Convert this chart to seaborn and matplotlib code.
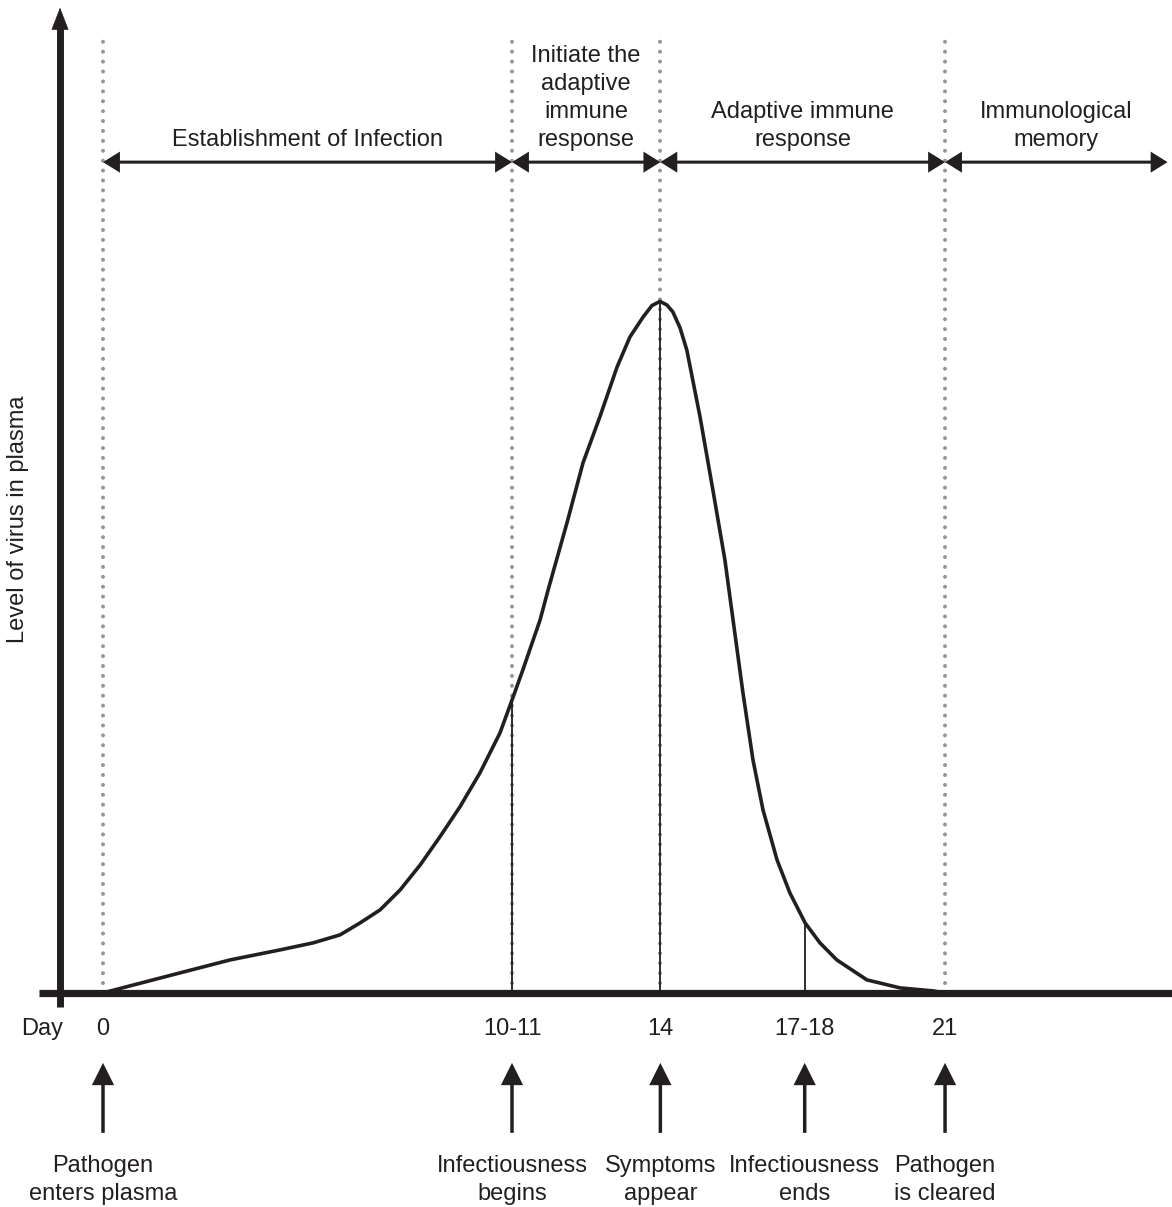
import matplotlib

matplotlib.use("Agg")
import matplotlib.pyplot as plt
import pandas as pd
import seaborn as sns

# virus level curve (day, relative level with peak = 100)
curve_day = [0.0, 1.92, 3.17, 4.41, 5.24, 5.91, 6.41, 6.91, 7.41, 7.91, 8.40, 8.90,
             9.40, 9.90, 10.22, 10.47, 10.90, 11.10, 11.57, 11.97, 12.39, 12.82,
             13.14, 13.47, 13.69, 13.89, 14.06, 14.21, 14.39, 14.56, 14.89, 15.21,
             15.51, 15.96, 16.21, 16.46, 16.81, 17.13, 17.51, 17.88, 18.30, 19.05,
             19.88, 20.70, 21.0]
curve_level = [0.0, 2.89, 4.76, 6.20, 7.22, 8.37, 10.10, 11.98, 14.86, 18.47, 22.51, 26.84,
               31.75, 37.52, 42.57, 46.61, 53.82, 58.15, 67.82, 76.48, 83.12, 90.33,
               94.66, 97.55, 99.2, 99.8, 99.3, 98.3, 96.0, 92.78, 83.12, 72.58,
               62.48, 43.29, 33.62, 26.41, 19.19, 14.43, 10.10, 7.22, 4.76, 1.88,
               0.72, 0.29, 0.0]

# events along the time axis
event_day = [0.0, 10.2, 13.9, 17.5, 21.0]
event_tick = ["0", "10-11", "14", "17-18", "21"]
event_label = ["Pathogen\nenters plasma", "Infectiousness\nbegins", "Symptoms\nappear",
               "Infectiousness\nends", "Pathogen\nis cleared"]

# thin drop lines from curve to baseline
drop_day = [10.2, 13.9, 17.5]
drop_level = [42.6, 99.7, 10.1]

# phase boundaries (dotted) and phase names
phase_bounds = [0.0, 10.2, 13.9, 21.0, 26.55]
dotted_day = [0.0, 10.2, 13.9, 21.0]
phase_label = ["Establishment of Infection", "Initiate the\nadaptive\nimmune\nresponse",
               "Adaptive immune\nresponse", "Immunological\nmemory"]

INK = "#231f20"
GREY = "#969696"

sns.set_theme(style="white")
plt.rcParams["font.family"] = ["Liberation Sans", "DejaVu Sans"]

fig = plt.figure(figsize=(11.72, 12.07), dpi=100)
ax = fig.add_axes([0, 0, 1, 1])
ax.set_xlim(-2.569, 26.66)
ax.set_ylim(-30.9, 143.3)
ax.axis("off")

df = pd.DataFrame({"day": curve_day, "level": curve_level})

# dotted phase separators
for d in dotted_day:
    ax.plot([d, d], [0, 138.2], color=GREY, lw=2.9, ls=(0, (0.01, 2.45)),
            dash_capstyle="round", zorder=1)

# thin drop lines
for d, lv in zip(drop_day, drop_level):
    ax.plot([d, d], [0, lv], color=INK, lw=1.3, zorder=2)

sns.lineplot(data=df, x="day", y="level", ax=ax, color=INK, lw=2.6,
             sort=False, estimator=None, zorder=3)
ax.lines[-1].set_solid_joinstyle("round")

# axes drawn as thick lines
ax.plot([-1.596, 26.7], [0, 0], color=INK, lw=5.2, solid_capstyle="butt", zorder=4)
ax.plot([-1.072, -1.072], [-2.0, 139.5], color=INK, lw=5.0, solid_capstyle="butt", zorder=4)
ax.annotate("", xy=(-1.072, 142.2), xytext=(-1.072, 138.0),
            arrowprops=dict(arrowstyle="-|>,head_length=15,head_width=5.8",
                            mutation_scale=1, lw=0.5, color=INK, joinstyle="miter",
                            shrinkA=0, shrinkB=0), zorder=4)

# phase double arrows and names
for i, name in enumerate(phase_label):
    a, b = phase_bounds[i], phase_bounds[i + 1]
    ax.annotate("", xy=(b, 119.9), xytext=(a, 119.9),
                arrowprops=dict(arrowstyle="<|-|>,head_length=0.45,head_width=0.28",
                                mutation_scale=20, lw=2.2, color=INK, joinstyle="miter",
                                capstyle="butt", shrinkA=0, shrinkB=0))
    ax.text((a + b) / 2, 122.2, name, ha="center", va="baseline",
            fontsize=17, color=INK, linespacing=1.36)

# day labels, arrows and event names
ax.text(-1.52, -6.06, "Day", ha="center", va="baseline", fontsize=17, color=INK)
for d, t, lab in zip(event_day, event_tick, event_label):
    ax.text(d, -6.06, t, ha="center", va="baseline", fontsize=17, color=INK)
    ax.annotate("", xy=(d, -10.1), xytext=(d, -20.2),
                arrowprops=dict(arrowstyle="-|>,head_length=0.6,head_width=0.3",
                                mutation_scale=20, lw=2.5, color=INK, joinstyle="miter",
                                capstyle="butt", shrinkA=0, shrinkB=0))
    ax.text(d, -29.9, lab, ha="center", va="baseline", fontsize=17, color=INK,
            linespacing=1.36)

ax.text(-2.12, 68.3, "Level of virus in plasma", rotation=90, ha="center",
        va="center", fontsize=17, color=INK)

fig.savefig("out.png", dpi=100, facecolor="white")
